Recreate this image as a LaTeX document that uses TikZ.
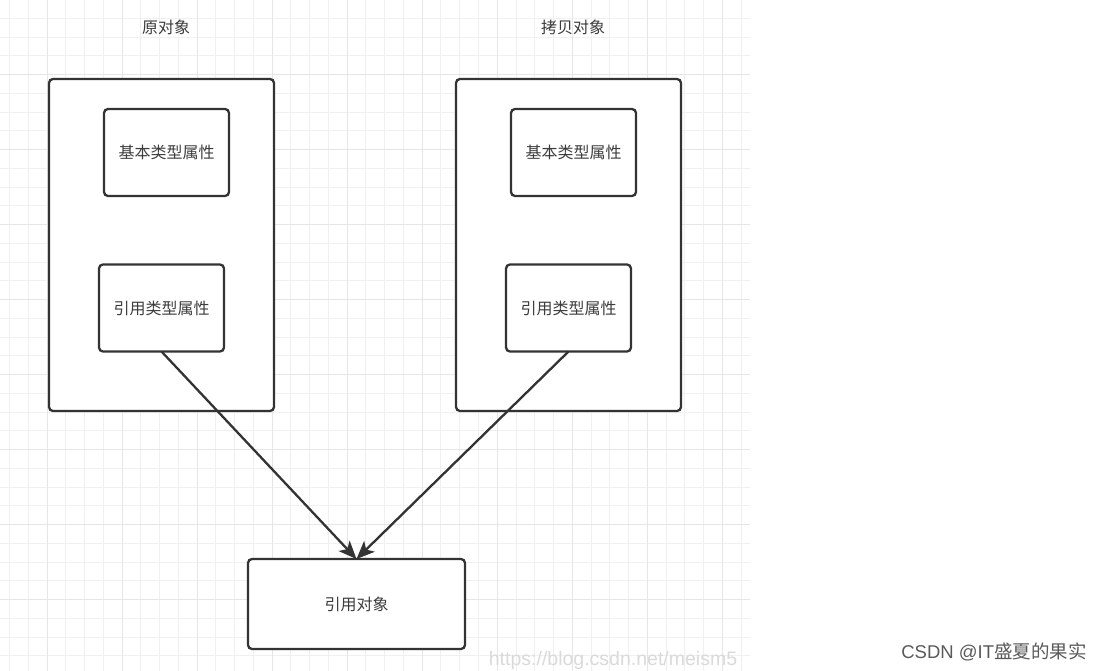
\documentclass[tikz,border=0pt]{standalone}
\usepackage{fontspec}
\newfontfamily\cjk{Noto Sans CJK SC}
\setsansfont{Liberation Sans}
\usetikzlibrary{arrows.meta, positioning}

\definecolor{linegray}{HTML}{333333}
\definecolor{textgray}{HTML}{3C3C3C}
\definecolor{gridminor}{HTML}{F0F0F0}
\definecolor{gridmajor}{HTML}{E6E6E6}
\definecolor{markgray}{HTML}{DADADA}
\definecolor{signgray}{HTML}{5A5A5A}

\begin{document}
\begin{tikzpicture}[
    x=1pt, y=-1pt,
    box/.style={rectangle, draw=linegray, line width=2.3pt, rounded corners=4pt,
                fill=white, inner sep=0pt, outer sep=0pt, text=textgray, align=center,
                font=\cjk\fontsize{16}{19}\selectfont},
    outer/.style={box, minimum width=225pt, minimum height=332pt},
    attr/.style={box, minimum width=125pt, minimum height=87pt},
    title/.style={text=textgray, font=\cjk\fontsize{16}{19}\selectfont},
    arr/.style={-{Stealth[length=18pt, width=15pt, inset=4.5pt]}, line width=2.3pt, draw=linegray},
]
    \useasboundingbox (0,0) rectangle (1102,671);
    \fill[white] (0,0) rectangle (1102,671);

    % grid
    \foreach \i in {0,...,39}
        \draw[gridminor, line width=1pt] ({9.5+18.76*\i},0) -- ({9.5+18.76*\i},671);
    \foreach \i in {1,...,35}
        \draw[gridminor, line width=1pt] (0,{-0.4+18.75*\i}) -- (750,{-0.4+18.75*\i});
    \foreach \i in {2,6,...,38}
        \draw[gridmajor, line width=1pt] ({9.5+18.76*\i},0) -- ({9.5+18.76*\i},671);
    \foreach \i in {4,8,...,32}
        \draw[gridmajor, line width=1pt] (0,{-0.4+18.75*\i}) -- (750,{-0.4+18.75*\i});

    % objects
    \node[outer] (origbox) at (161.5,245) {};
    \node[outer, right=182pt of origbox] (copybox) {};
    \node[attr] (origprim) at (166.5,152.5) {基本类型属性};
    \node[attr] (origref)  at (161.5,308)   {引用类型属性};
    \node[attr, right=282pt of origprim] (copyprim) {基本类型属性};
    \node[attr, right=282pt of origref]  (copyref)  {引用类型属性};
    \node[box, minimum width=217pt, minimum height=90pt] (refobj) at (356.5,604) {引用对象};

    \node[title] (origtitle) at (166,27) {原对象};
    \node[title] (copytitle) at (573,27) {拷贝对象};

    \draw[arr] (origref.south) -- (refobj.north);
    \draw[arr] (copyref.south) -- (refobj.north);

    % watermarks
    \node[text=markgray, font=\sffamily\fontsize{19.5}{22}\selectfont] (url) at (613,660) {https://blog.csdn.net/meism5};
    \node[text=signgray, font=\fontsize{18.5}{21}\selectfont] (sign) at (994,652)
        {\sffamily CSDN @IT\cjk 盛夏的果实};
\end{tikzpicture}
\end{document}
